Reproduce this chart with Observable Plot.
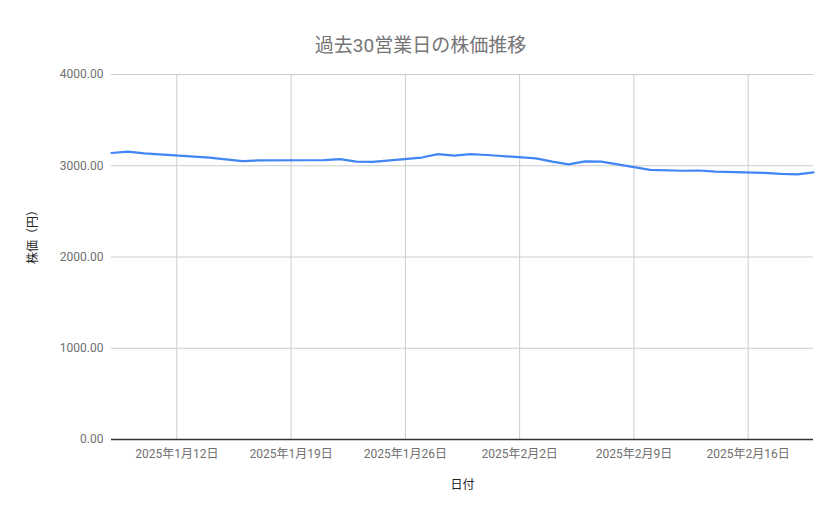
<!DOCTYPE html>
<html>
<head>
<meta charset="utf-8">
<script src="https://cdn.jsdelivr.net/npm/d3@7"></script>
<script src="https://cdn.jsdelivr.net/npm/@observablehq/plot@0.6"></script>
<style>
  html, body { margin: 0; padding: 0; background: #fff; }
  #chart svg { display: block; }
</style>
</head>
<body>
<div id="chart"></div>
<script>
const titleText = "過去30営業日の株価推移";
const yLabel = "株価（円）";
const xLabel = "日付";

const dates = [
  "2025-01-08","2025-01-09","2025-01-10",
  "2025-01-14","2025-01-15","2025-01-16","2025-01-17",
  "2025-01-20","2025-01-21","2025-01-22","2025-01-23","2025-01-24",
  "2025-01-27","2025-01-28","2025-01-29","2025-01-30","2025-01-31",
  "2025-02-03","2025-02-04","2025-02-05","2025-02-06","2025-02-07",
  "2025-02-10","2025-02-12","2025-02-13","2025-02-14",
  "2025-02-17","2025-02-18","2025-02-19","2025-02-20"
];
const prices = [
  3140, 3155, 3135,
  3090, 3070, 3050, 3058,
  3060, 3062, 3072, 3045, 3042,
  3090, 3127, 3112, 3128, 3118,
  3080, 3045, 3015, 3048, 3046,
  2955, 2945, 2948, 2935,
  2922, 2910, 2906, 2928
];
const xTickDates = ["2025-01-12","2025-01-19","2025-01-26","2025-02-02","2025-02-09","2025-02-16"];
const yTicks = [0, 1000, 2000, 3000, 4000];
const xDomain = ["2025-01-08", "2025-02-20"];

const parse = d3.utcParse("%Y-%m-%d");
const data = dates.map((d, i) => ({date: parse(d), price: prices[i]}));
const xt = xTickDates.map(parse);
const fmtDate = d => `${d.getUTCFullYear()}年${d.getUTCMonth() + 1}月${d.getUTCDate()}日`;

const font = "Roboto, 'Noto Sans CJK JP', sans-serif";

const chart = Plot.plot({
  width: 839,
  height: 519,
  marginLeft: 111,
  marginRight: 26,
  marginTop: 74,
  marginBottom: 80,
  style: {fontFamily: font, fontSize: "12px", background: "#fff"},
  x: {type: "utc", domain: xDomain.map(parse)},
  y: {domain: [0, 4000]},
  marks: [
    Plot.gridX(xt, {stroke: "#cccccc", strokeOpacity: 1, strokeWidth: 1}),
    Plot.gridY(yTicks.filter(v => v > 0), {stroke: "#cccccc", strokeOpacity: 1, strokeWidth: 1}),
    Plot.axisX(xt, {tickSize: 0, tickPadding: 10, tickFormat: fmtDate, fill: "#6f6f6f", fontSize: 12, label: null}),
    Plot.axisY(yTicks, {tickSize: 0, tickPadding: 8, tickFormat: d3.format(".2f"), fill: "#6f6f6f", fontSize: 12, label: null}),
    Plot.ruleY([0], {stroke: "#333333", strokeWidth: 1.3}),
    Plot.line(data, {x: "date", y: "price", stroke: "#4285F4", strokeWidth: 2.2}),
    Plot.text([titleText], {frameAnchor: "top", dx: -42, dy: -36, fontSize: 19, fill: "#757575", text: d => d}),
    Plot.text([yLabel], {frameAnchor: "left", dx: -78, dy: 7, rotate: -90, fontSize: 12, fill: "#222222", text: d => d}),
    Plot.text([xLabel], {frameAnchor: "bottom", dy: 49, fontSize: 12, fill: "#222222", text: d => d})
  ]
});
document.getElementById("chart").appendChild(chart);
</script>
</body>
</html>
